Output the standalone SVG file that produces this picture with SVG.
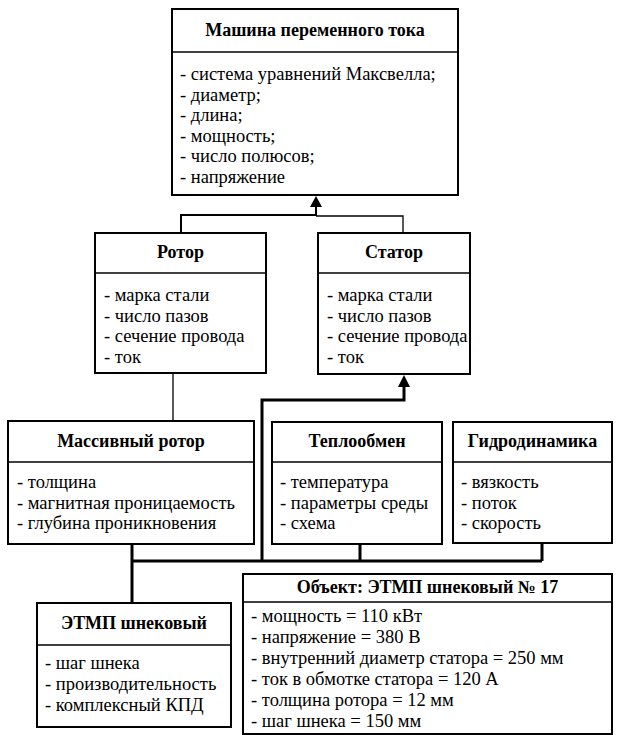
<svg xmlns="http://www.w3.org/2000/svg" width="618" height="735" viewBox="0 0 618 735">
<style>
.box{fill:#fff;stroke:#000;stroke-width:2}
.div{stroke:#000;stroke-width:1.5}
text{font-family:'Liberation Serif','Times New Roman',serif;font-size:18.5px;fill:#000}
.h{font-weight:bold;text-anchor:middle;font-size:18px}
.thin{fill:none;stroke:#000;stroke-width:1.3}
.mid{fill:none;stroke:#000;stroke-width:2}
.thick{fill:none;stroke:#000;stroke-width:3}
</style>
<rect width="618" height="735" fill="#fff"/>
<g id="connectors">
<path class="mid" d="M181,233 V215 H316 V204"/>
<path class="thin" d="M403,233 V216 H316"/>
<polygon points="316,196 310,207 322,207" fill="#000"/>
<path class="thin" d="M173,373 V421"/>
<path class="thick" d="M404,383 V400 H262 V561"/>
<polygon points="404,375 398,387 410,387" fill="#000"/>
<path class="thick" d="M132,561 H542 M360,544 V561 M542,543 V561 M132,544 V603"/>
</g>
<g id="machine">
<rect class="box" x="172" y="9" width="286" height="186"/>
<line class="div" x1="172" y1="52" x2="458" y2="52"/>
<text class="h" x="315" y="36">Машина переменного тока</text>
<text x="180" y="80">- система уравнений Максвелла;</text>
<text x="180" y="100.5">- диаметр;</text>
<text x="180" y="121">- длина;</text>
<text x="180" y="141.5">- мощность;</text>
<text x="180" y="162">- число полюсов;</text>
<text x="180" y="182.5">- напряжение</text>
</g>
<g id="rotor">
<rect class="box" x="95" y="233" width="171" height="140"/>
<line class="div" x1="95" y1="273" x2="266" y2="273"/>
<text class="h" x="180.5" y="258">Ротор</text>
<text x="104" y="301">- марка стали</text>
<text x="104" y="321.5">- число пазов</text>
<text x="104" y="342">- сечение провода</text>
<text x="104" y="362.5">- ток</text>
</g>
<g id="stator">
<rect class="box" x="318" y="233" width="152" height="141"/>
<line class="div" x1="318" y1="273" x2="470" y2="273"/>
<text class="h" x="394" y="258">Статор</text>
<text x="327" y="301">- марка стали</text>
<text x="327" y="321.5">- число пазов</text>
<text x="327" y="342">- сечение провода</text>
<text x="327" y="362.5">- ток</text>
</g>
<g id="massive-rotor">
<rect class="box" x="8" y="421" width="246" height="123"/>
<line class="div" x1="8" y1="462" x2="254" y2="462"/>
<text class="h" x="131" y="447">Массивный ротор</text>
<text x="17" y="488">- толщина</text>
<text x="17" y="508.5">- магнитная проницаемость</text>
<text x="17" y="529">- глубина проникновения</text>
</g>
<g id="heat">
<rect class="box" x="272" y="422" width="170" height="122"/>
<line class="div" x1="272" y1="462" x2="442" y2="462"/>
<text class="h" x="357" y="447">Теплообмен</text>
<text x="280" y="488">- температура</text>
<text x="280" y="508.5">- параметры среды</text>
<text x="280" y="529">- схема</text>
</g>
<g id="hydro">
<rect class="box" x="453" y="422" width="159" height="121"/>
<line class="div" x1="453" y1="462" x2="612" y2="462"/>
<text class="h" x="532.5" y="447">Гидродинамика</text>
<text x="461" y="488">- вязкость</text>
<text x="461" y="508.5">- поток</text>
<text x="461" y="529">- скорость</text>
</g>
<g id="etmp">
<rect class="box" x="37" y="603" width="194" height="124"/>
<line class="div" x1="37" y1="645" x2="231" y2="645"/>
<text class="h" x="134" y="629">ЭТМП шнековый</text>
<text x="45" y="669">- шаг шнека</text>
<text x="45" y="690">- производительность</text>
<text x="45" y="711">- комплексный КПД</text>
</g>
<g id="object">
<rect class="box" x="243" y="574" width="369" height="160"/>
<line class="div" x1="243" y1="602" x2="612" y2="602"/>
<text class="h" x="427.5" y="593">Объект: ЭТМП шнековый № 17</text>
<text x="251" y="622">- мощность = 110 кВт</text>
<text x="251" y="643">- напряжение = 380 В</text>
<text x="251" y="664">- внутренний диаметр статора = 250 мм</text>
<text x="251" y="685">- ток в обмотке статора = 120 А</text>
<text x="251" y="706">- толщина ротора = 12 мм</text>
<text x="251" y="727">- шаг шнека = 150 мм</text>
</g>
</svg>
